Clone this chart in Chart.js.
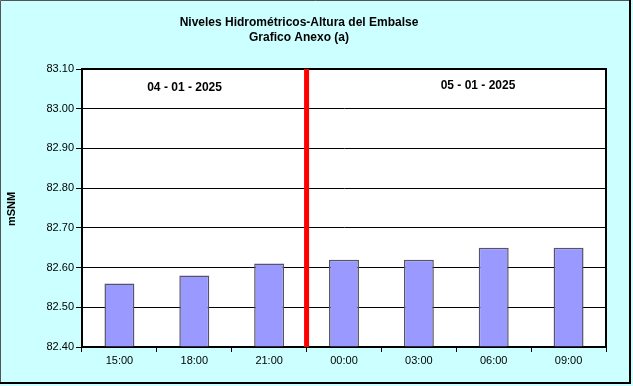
<!DOCTYPE html>
<html>
<head>
<meta charset="utf-8">
<script src="https://cdn.jsdelivr.net/npm/chart.js@4/dist/chart.umd.min.js"></script>
<style>
html,body{margin:0;padding:0;background:#ccffff;}
#wrap{width:633px;height:386px;position:relative;}
</style>
</head>
<body>
<div id="wrap"><canvas id="c" width="633" height="386"></canvas></div>
<script>
const categories = ['15:00','18:00','21:00','00:00','03:00','06:00','09:00'];
const levels = [82.56, 82.58, 82.61, 82.62, 82.62, 82.65, 82.65];
const yMin = 82.40, yMax = 83.10, yStep = 0.10;
const titleLines = ['Niveles Hidrométricos-Altura del Embalse', 'Grafico Anexo (a)'];
const yAxisTitle = 'mSNM';
const dateLabels = ['04 - 01 - 2025', '05 - 01 - 2025'];
const dayChangeAfter = 2; // index of last category of first day

const FONT = 'Arial, "Liberation Sans", sans-serif';

const decor = {
  id: 'decor',
  beforeDraw(chart) {
    const ctx = chart.ctx;
    ctx.save();
    ctx.fillStyle = '#ccffff';
    ctx.fillRect(0, 0, chart.width, chart.height);
    const a = chart.chartArea;
    ctx.fillStyle = '#ffffff';
    ctx.fillRect(a.left, a.top, a.right - a.left, a.bottom - a.top);
    ctx.restore();
  },
  afterDraw(chart) {
    const ctx = chart.ctx;
    const a = chart.chartArea;
    const xs = chart.scales.x, ys = chart.scales.y;
    ctx.save();
    // plot border top/right
    ctx.strokeStyle = '#000';
    ctx.lineWidth = 2;
    ctx.beginPath();
    ctx.moveTo(a.left, a.top);
    ctx.lineTo(a.right, a.top);
    ctx.lineTo(a.right, a.bottom);
    ctx.stroke();
    // red day separator
    const xr = xs.getPixelForValue(dayChangeAfter + 0.5);
    ctx.strokeStyle = '#ff0000';
    ctx.lineWidth = 5;
    ctx.beginPath();
    ctx.moveTo(xr, a.top);
    ctx.lineTo(xr, a.bottom);
    ctx.stroke();
    // date labels
    ctx.fillStyle = '#000';
    ctx.font = 'bold 12px ' + FONT;
    ctx.textAlign = 'center';
    ctx.textBaseline = 'middle';
    ctx.fillText(dateLabels[0], xs.getPixelForValue(0.87), ys.getPixelForValue(83.052));
    ctx.fillText(dateLabels[1], xs.getPixelForValue(4.79), ys.getPixelForValue(83.058));
    // title
    ctx.font = 'bold 12px ' + FONT;
    ctx.fillText(titleLines[0], 299, 23);
    ctx.fillText(titleLines[1], 299, 38);
    // y axis title
    ctx.save();
    ctx.translate(12, 209);
    ctx.rotate(-Math.PI / 2);
    ctx.font = 'bold 11px ' + FONT;
    ctx.fillText(yAxisTitle, 0, 0);
    ctx.restore();
    // outer frame
    ctx.strokeStyle = '#555';
    ctx.lineWidth = 1;
    ctx.beginPath();
    ctx.moveTo(0.5, 382);
    ctx.lineTo(0.5, 0.5);
    ctx.lineTo(630, 0.5);
    ctx.stroke();
    ctx.strokeStyle = '#000';
    ctx.lineWidth = 2;
    ctx.beginPath();
    ctx.moveTo(630, 0);
    ctx.lineTo(630, 383);
    ctx.lineTo(0, 383);
    ctx.stroke();
    ctx.restore();
  }
};

new Chart(document.getElementById('c'), {
  type: 'bar',
  data: {
    labels: categories,
    datasets: [{
      data: levels,
      backgroundColor: '#9999ff',
      borderColor: '#555566',
      borderWidth: 1.5,
      barPercentage: 0.4,
      categoryPercentage: 1.0,
      base: yMin
    }]
  },
  options: {
    responsive: false,
    animation: false,
    devicePixelRatio: 1,
    layout: { padding: { top: 69, right: 27, left: 0, bottom: 0 } },
    plugins: { legend: { display: false }, title: { display: false }, tooltip: { enabled: false } },
    scales: {
      x: {
        offset: true,
        grid: { offset: true, drawOnChartArea: false, drawTicks: true, tickLength: 5, color: '#000' },
        border: { color: '#000', width: 2 },
        ticks: { color: '#000', font: { family: FONT, size: 11 }, padding: 2, maxRotation: 0 },
        afterFit(s) { s.height = 39; }
      },
      y: {
        min: yMin, max: yMax,
        grid: { color: '#000', lineWidth: 1, drawTicks: true, tickLength: 6 },
        border: { color: '#000', width: 2 },
        ticks: { stepSize: yStep, color: '#000', font: { family: FONT, size: 11 }, padding: 2,
          callback: v => Number(v).toFixed(2) },
        afterFit(s) { s.width = 82; }
      }
    }
  },
  plugins: [decor]
});
</script>
</body>
</html>
